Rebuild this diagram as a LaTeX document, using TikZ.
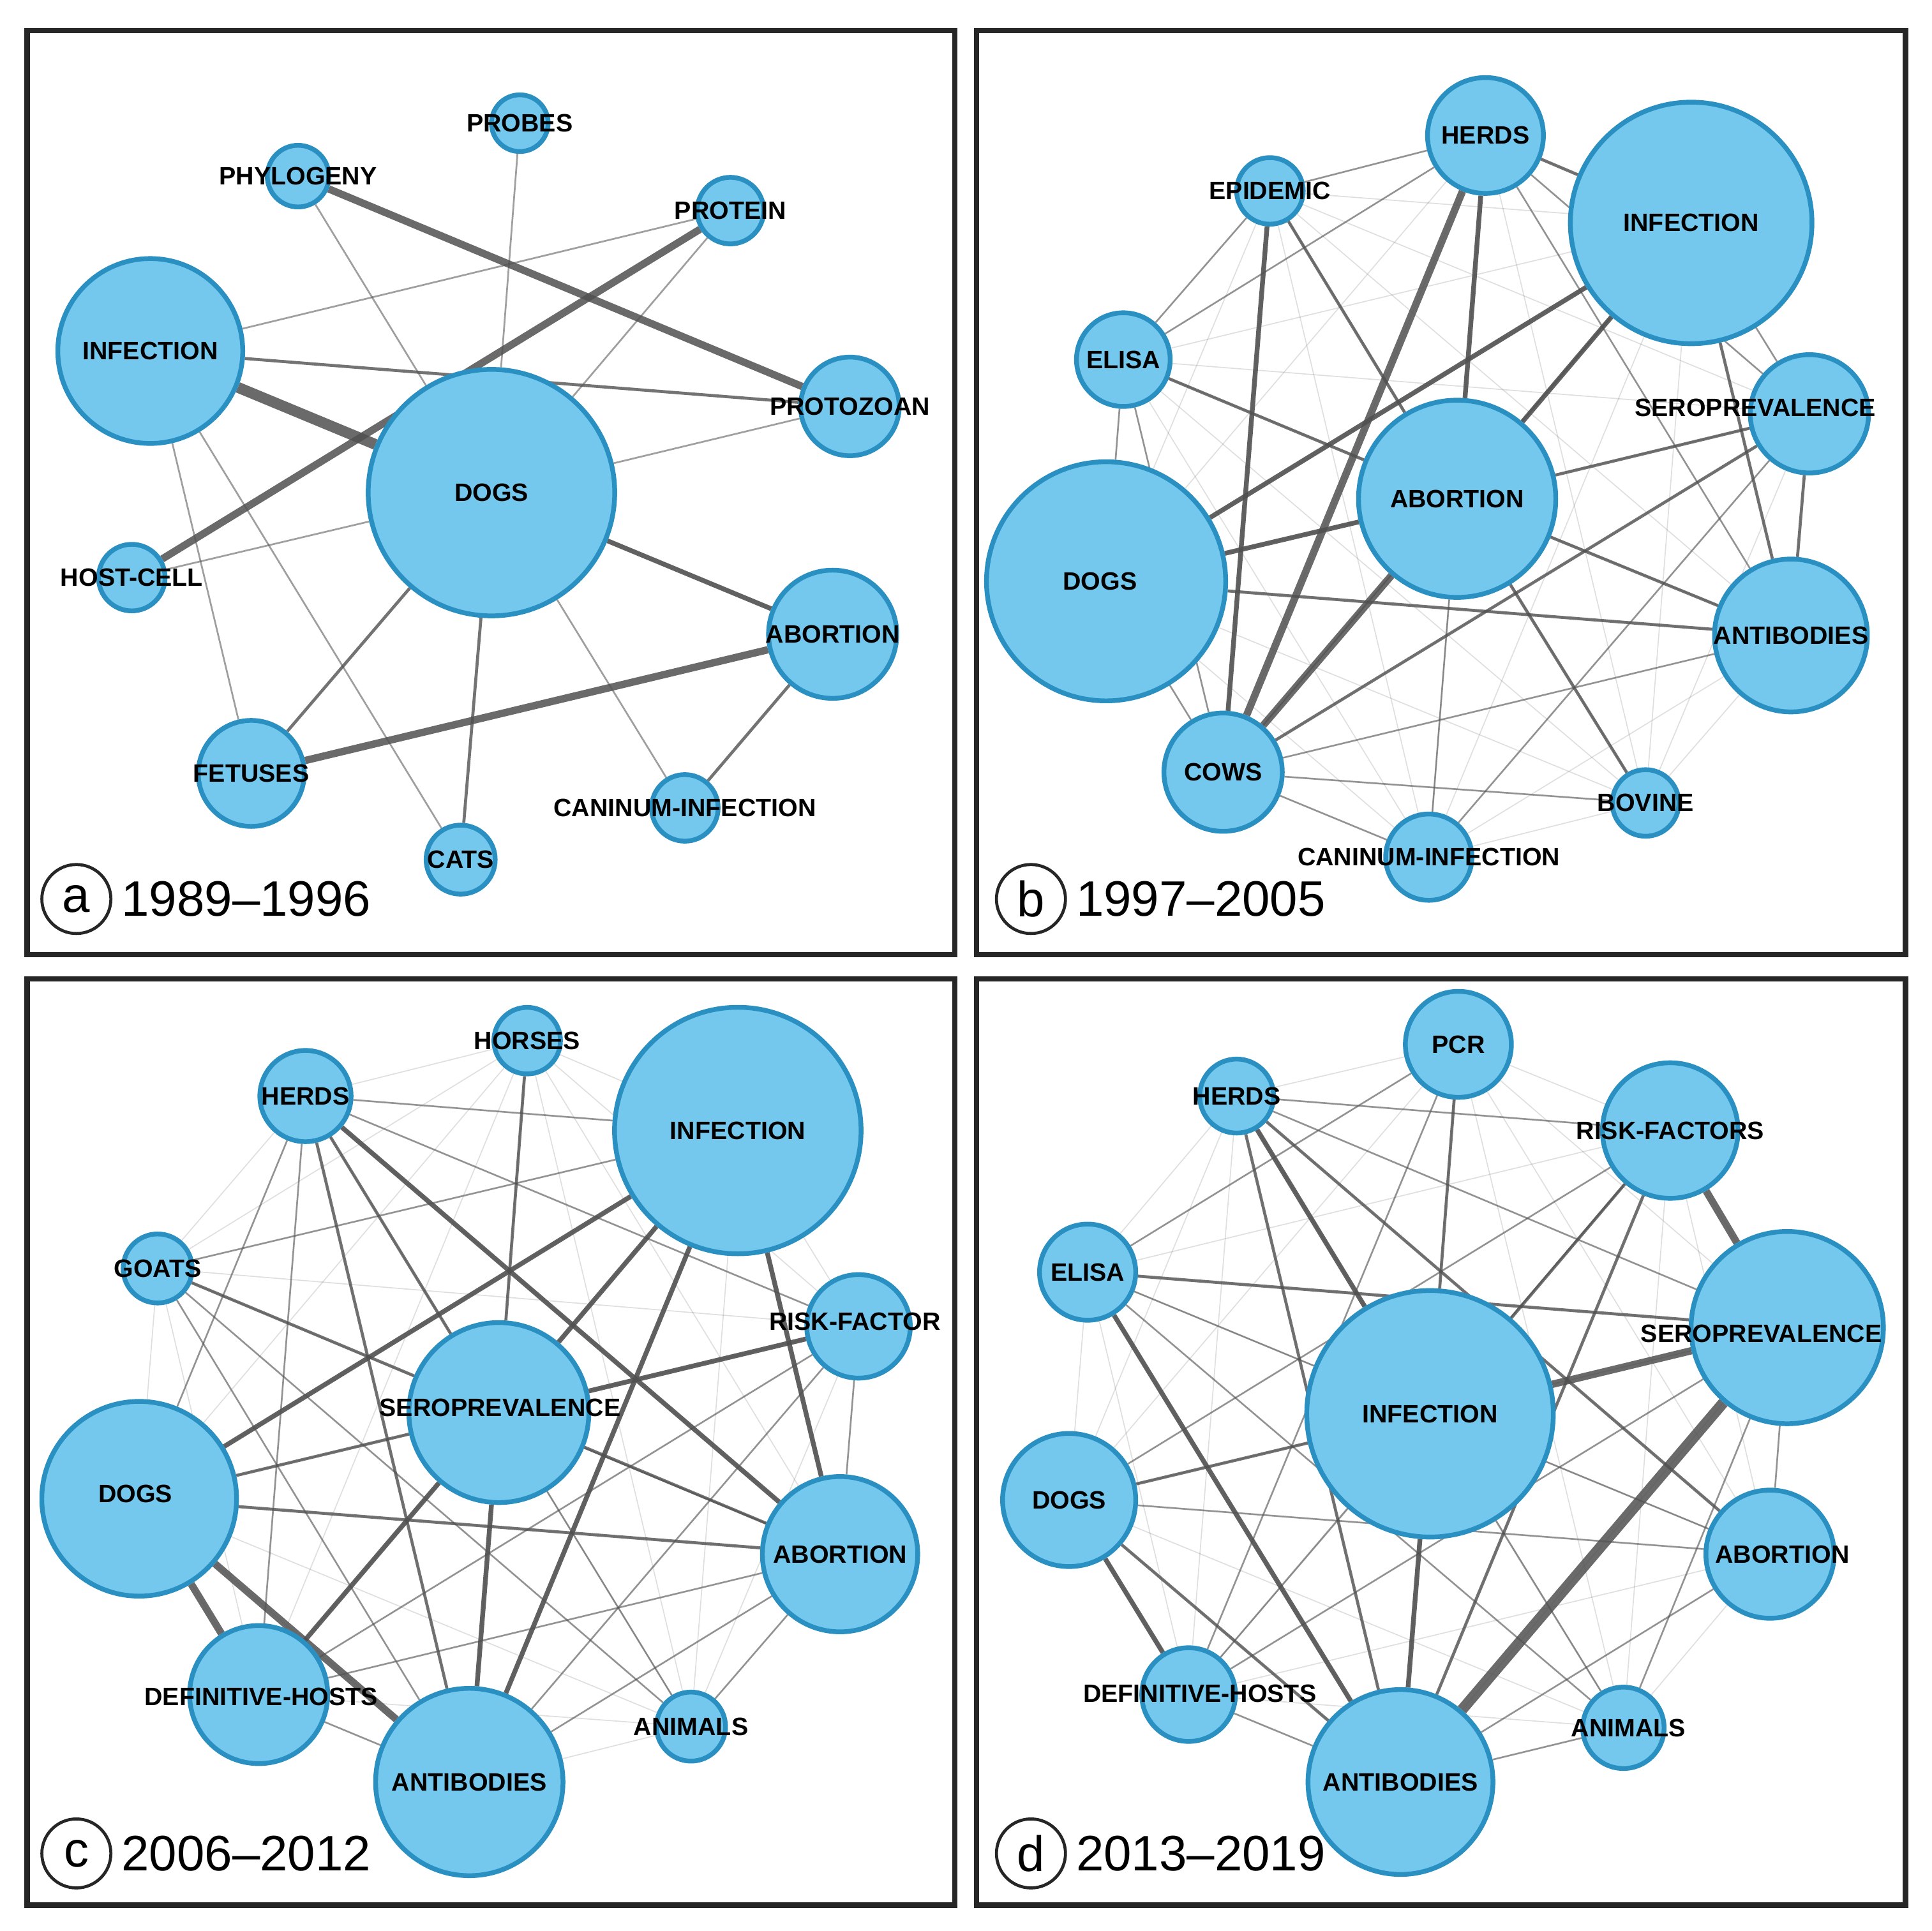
\documentclass[tikz,border=0pt]{standalone}
\usepackage{fontspec}
\setmainfont{Liberation Sans}
\pgfdeclarelayer{background}
\pgfsetlayers{background,main}
\definecolor{nfill}{HTML}{74C8EE}
\definecolor{nbord}{HTML}{2A90C2}
\definecolor{edg}{HTML}{505050}
\tikzset{
 nc/.style={circle,fill=nfill,draw=nbord,line width=1.1pt,inner sep=0pt},
 lbl/.style={font=\fontsize{5.8}{6}\selectfont\bfseries,inner sep=0pt},
 panel/.style={draw=black!85,line width=1.2pt},
 yr/.style={font=\fontsize{11.5}{12}\selectfont,anchor=west,inner sep=0pt},
 letc/.style={circle,draw=black!85,line width=0.7pt,minimum size=0.56cm,inner sep=0pt,font=\fontsize{11.5}{12}\selectfont},
 e0/.style={draw=edg,opacity=0.18,line width=0.25pt},
 e1/.style={draw=edg,opacity=0.55,line width=0.4pt},
 e2/.style={draw=edg,opacity=0.8,line width=0.7pt},
 e3/.style={draw=edg,opacity=0.9,line width=1.1pt},
 e4/.style={draw=edg,opacity=0.85,line width=1.7pt},
 e5/.style={draw=edg,opacity=0.85,line width=2.5pt},
}
\newcommand\nd[5]{\node[nc,minimum size=#4*0.02cm] (#1) at (#2,#3) {};}
\newcommand\nl[2]{\node[lbl] (#1-t) at (#1) {#2};}
\newcommand\allpairs[1]{%
 \foreach \p [count=\n] in {#1}{\foreach \q [count=\m] in {#1}{\ifnum\m>\n \draw[e0] (\p) -- (\q);\fi}}}
\begin{document}
\begin{tikzpicture}[x=0.01cm,y=-0.01cm]
\useasboundingbox (0,0) rectangle (1568,1568);
\draw[panel] (22,25) rectangle (775,775);
\draw[panel] (793,25) rectangle (1547,775);
\draw[panel] (22,795) rectangle (775,1547);
\draw[panel] (793,795) rectangle (1547,1547);
% ---------- panel a
\nd{aprobes}{422}{100}{23}{}
\nd{aphyl}{242}{143}{25}{}
\nd{aprot}{593}{171}{27}{}
\nd{ainf}{122}{285}{75}{}
\nd{aproto}{690}{330}{40}{}
\nd{adogs}{399}{400}{100}{}
\nd{ahost}{107}{469}{27}{}
\nd{aabor}{676}{515}{52}{}
\nd{afet}{204}{628}{43}{}
\nd{acan}{556}{656}{27}{}
\nd{acats}{374}{698}{28}{}
% ---------- panel b
\nd{bherds}{1206}{110}{47}{}
\nd{bepi}{1031}{155}{27}{}
\nd{binf}{1373}{181}{98}{}
\nd{belisa}{912}{292}{38}{}
\nd{bsero}{1469}{336}{48}{}
\nd{babor}{1183}{405}{80}{}
\nd{bdogs}{898}{472}{97}{}
\nd{banti}{1454}{516}{62}{}
\nd{bcows}{993}{627}{48}{}
\nd{bbov}{1336}{652}{27}{}
\nd{bcan}{1160}{696}{35}{}
% ---------- panel c
\nd{chorses}{428}{845}{27}{}
\nd{cherds}{248}{890}{37}{}
\nd{cinf}{599}{918}{100}{}
\nd{cgoats}{128}{1030}{28}{}
\nd{crisk}{697}{1077}{42}{}
\nd{csero}{405}{1147}{73}{}
\nd{cdogs}{113}{1217}{79}{}
\nd{cabor}{682}{1262}{63}{}
\nd{cdef}{210}{1376}{56}{}
\nd{canim}{561}{1402}{28}{}
\nd{canti}{381}{1447}{76}{}
% ---------- panel d
\nd{dpcr}{1184}{848}{43}{}
\nd{dherds}{1004}{890}{30}{}
\nd{drisk}{1356}{918}{55}{}
\nd{delisa}{883}{1033}{39}{}
\nd{dsero}{1451}{1078}{78}{}
\nd{dinf}{1161}{1148}{100}{}
\nd{ddogs}{868}{1218}{54}{}
\nd{dabor}{1437}{1262}{52}{}
\nd{ddef}{965}{1376}{38}{}
\nd{danim}{1318}{1403}{33}{}
\nd{danti}{1137}{1447}{75}{}
\begin{pgfonlayer}{background}
% a edges
\draw[e4] (aphyl) -- (aproto);
\draw[e4] (aprot) -- (ahost);
\draw[e5] (ainf) -- (adogs);
\draw[e4] (afet) -- (aabor);
\draw[e3] (adogs) -- (aabor);
\draw[e1] (ainf) -- (aprot);
\draw[e2] (ainf) -- (aproto);
\draw[e1] (adogs) -- (aproto);
\draw[e1] (adogs) -- (aprobes);
\draw[e1] (aphyl) -- (adogs);
\draw[e1] (aprot) -- (adogs);
\draw[e1] (ahost) -- (adogs);
\draw[e1] (ainf) -- (afet);
\draw[e1] (ainf) -- (acats);
\draw[e2] (adogs) -- (afet);
\draw[e2] (adogs) -- (acats);
\draw[e1] (adogs) -- (acan);
\draw[e2] (acan) -- (aabor);
% b edges
\allpairs{bherds,bepi,binf,belisa,bsero,babor,bdogs,banti,bcows,bbov,bcan}
\draw[e4] (bherds) -- (bcows);
\draw[e3] (bherds) -- (babor);
\draw[e3] (bepi) -- (bcows);
\draw[e3] (binf) -- (bdogs);
\draw[e4] (babor) -- (bcows);
\draw[e3] (binf) -- (babor);
\draw[e2] (bepi) -- (babor);
\draw[e2] (belisa) -- (babor);
\draw[e2] (babor) -- (bsero);
\draw[e2] (bdogs) -- (banti);
\draw[e2] (babor) -- (bbov);
\draw[e3] (babor) -- (bdogs);
\draw[e2] (babor) -- (banti);
\draw[e1] (bherds) -- (bepi);
\draw[e2] (bherds) -- (binf);
\draw[e1] (binf) -- (bsero);
\draw[e2] (binf) -- (banti);
\draw[e2] (bsero) -- (banti);
\draw[e2] (bsero) -- (bcows);
\draw[e1] (bcows) -- (bbov);
\draw[e1] (bcows) -- (bcan);
\draw[e1] (bcan) -- (babor);
\draw[e1] (banti) -- (bcows);
\draw[e1] (bherds) -- (belisa);
\draw[e1] (bepi) -- (belisa);
\draw[e1] (belisa) -- (bdogs);
\draw[e1] (bdogs) -- (bcows);
\draw[e1] (belisa) -- (bcows);
\draw[e1] (bherds) -- (bsero);
\draw[e1] (bherds) -- (banti);
\draw[e1] (binf) -- (bcows);
\draw[e1] (bsero) -- (bcan);
% c edges
\allpairs{chorses,cherds,cinf,cgoats,crisk,csero,cdogs,cabor,cdef,canim,canti}
\draw[e4] (cdogs) -- (cdef);
\draw[e4] (cdogs) -- (canti);
\draw[e3] (cinf) -- (csero);
\draw[e3] (cinf) -- (cdogs);
\draw[e3] (csero) -- (crisk);
\draw[e3] (csero) -- (canti);
\draw[e2] (csero) -- (cdogs);
\draw[e3] (cherds) -- (cabor);
\draw[e3] (cinf) -- (canti);
\draw[e3] (cinf) -- (cabor);
\draw[e3] (csero) -- (cdef);
\draw[e2] (chorses) -- (csero);
\draw[e1] (cherds) -- (cinf);
\draw[e2] (cdogs) -- (cabor);
\draw[e1] (cdef) -- (canti);
\draw[e1] (canti) -- (cabor);
\draw[e2] (cgoats) -- (cabor);
\draw[e2] (cherds) -- (canti);
\draw[e2] (cherds) -- (csero);
\draw[e1] (cherds) -- (crisk);
\draw[e1] (cgoats) -- (cinf);
\draw[e1] (cgoats) -- (canti);
\draw[e1] (cgoats) -- (canim);
\draw[e1] (cdef) -- (cabor);
\draw[e1] (cdef) -- (crisk);
\draw[e1] (cdef) -- (cherds);
\draw[e1] (canti) -- (crisk);
\draw[e1] (csero) -- (canim);
\draw[e1] (csero) -- (cabor);
\draw[e1] (canim) -- (cabor);
\draw[e1] (crisk) -- (cabor);
\draw[e1] (cdogs) -- (cherds);
% d edges
\allpairs{dpcr,dherds,drisk,delisa,dsero,dinf,ddogs,dabor,ddef,danim,danti}
\draw[e5] (dsero) -- (danti);
\draw[e4] (drisk) -- (dsero);
\draw[e4] (dinf) -- (dsero);
\draw[e3] (dherds) -- (dinf);
\draw[e3] (delisa) -- (danti);
\draw[e3] (ddogs) -- (ddef);
\draw[e3] (dinf) -- (danti);
\draw[e2] (dinf) -- (ddogs);
\draw[e2] (delisa) -- (dsero);
\draw[e2] (dpcr) -- (dinf);
\draw[e2] (drisk) -- (dinf);
\draw[e2] (drisk) -- (danti);
\draw[e2] (dherds) -- (dabor);
\draw[e2] (ddogs) -- (danti);
\draw[e2] (dherds) -- (danti);
\draw[e1] (delisa) -- (dinf);
\draw[e1] (delisa) -- (danim);
\draw[e1] (dherds) -- (drisk);
\draw[e1] (dherds) -- (dsero);
\draw[e1] (dpcr) -- (ddef);
\draw[e1] (dpcr) -- (delisa);
\draw[e1] (dinf) -- (danim);
\draw[e1] (dinf) -- (dabor);
\draw[e1] (ddef) -- (dsero);
\draw[e1] (ddef) -- (danti);
\draw[e1] (ddef) -- (drisk);
\draw[e1] (dsero) -- (dabor);
\draw[e1] (dsero) -- (danim);
\draw[e1] (danti) -- (danim);
\draw[e1] (danti) -- (dabor);
\draw[e1] (drisk) -- (ddogs);
\draw[e1] (dabor) -- (ddogs);
\end{pgfonlayer}
% labels
\nl{aprobes}{PROBES}\nl{aphyl}{PHYLOGENY}\nl{aprot}{PROTEIN}\nl{ainf}{INFECTION}
\nl{aproto}{PROTOZOAN}\nl{adogs}{DOGS}\nl{ahost}{HOST-CELL}\nl{aabor}{ABORTION}
\nl{afet}{FETUSES}\nl{acan}{CANINUM-INFECTION}\nl{acats}{CATS}
\nl{bherds}{HERDS}\nl{bepi}{EPIDEMIC}\nl{binf}{INFECTION}\nl{belisa}{ELISA}
\node[lbl] (bsero-t) at (1425,331) {SEROPREVALENCE};
\nl{babor}{ABORTION}\node[lbl] (bdogs-t) at (893,472) {DOGS};\nl{banti}{ANTIBODIES}
\nl{bcows}{COWS}\nl{bbov}{BOVINE}\nl{bcan}{CANINUM-INFECTION}
\nl{chorses}{HORSES}\nl{cherds}{HERDS}\nl{cinf}{INFECTION}\nl{cgoats}{GOATS}
\node[lbl] (crisk-t) at (694,1073) {RISK-FACTOR};
\node[lbl] (csero-t) at (406,1143) {SEROPREVALENCE};
\node[lbl] (cdogs-t) at (110,1213) {DOGS};\nl{cabor}{ABORTION}
\node[lbl] (cdef-t) at (212,1378) {DEFINITIVE-HOSTS};
\nl{canim}{ANIMALS}\nl{canti}{ANTIBODIES}
\nl{dpcr}{PCR}\nl{dherds}{HERDS}\node[lbl] (drisk-t) at (1356,918) {RISK-FACTORS};
\nl{delisa}{ELISA}\node[lbl] (dsero-t) at (1430,1083) {SEROPREVALENCE};
\nl{dinf}{INFECTION}\nl{ddogs}{DOGS}\node[lbl] (dabor-t) at (1447,1262) {ABORTION};
\node[lbl] (ddef-t) at (974,1375) {DEFINITIVE-HOSTS};
\node[lbl] (danim-t) at (1322,1403) {ANIMALS};\nl{danti}{ANTIBODIES}
% panel labels
\node[letc] (la) at (62,730) {a}; \node[yr] (ya) at (98,730) {1989–1996};
\node[letc] (lb) at (837,730) {b}; \node[yr] (yb) at (873,730) {1997–2005};
\node[letc] (lc) at (62,1505) {c}; \node[yr] (yc) at (98,1505) {2006–2012};
\node[letc] (ld) at (837,1505) {d}; \node[yr] (yd) at (873,1505) {2013–2019};
\end{tikzpicture}
\end{document}
